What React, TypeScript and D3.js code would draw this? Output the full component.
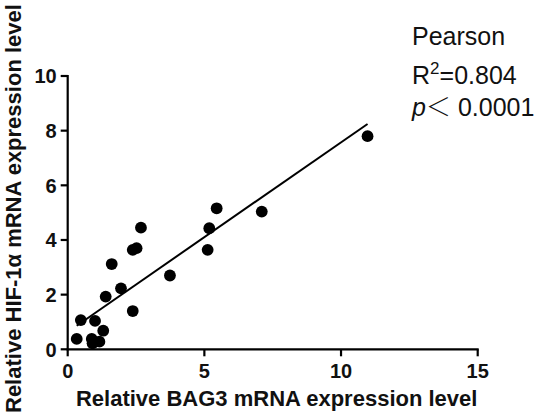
import React from 'react';
import { scaleLinear, line } from 'd3';

// values
const bag3 = [0.33, 0.48, 1.0, 1.3, 0.88, 0.91, 1.16, 1.39, 1.95, 1.61, 2.38, 2.38, 2.52, 2.68, 3.74, 5.12, 5.18, 5.45, 7.1, 10.97];
const hif1a = [0.38, 1.07, 1.04, 0.68, 0.38, 0.22, 0.28, 1.93, 2.23, 3.12, 1.4, 3.64, 3.7, 4.45, 2.7, 3.64, 4.43, 5.16, 5.04, 7.8];

const xTicks = [0, 5, 10, 15];
const yTicks = [0, 2, 4, 6, 8, 10];

const xLabel = 'Relative BAG3 mRNA expression level';
const yLabel = 'Relative HIF-1α mRNA expression level';
const statTitle = 'Pearson';
const rSquared = '0.804';
const pValue = '0.0001';

const font = '"Liberation Sans", Arial, sans-serif';

// simple least squares fit
const fit = (xs: number[], ys: number[]) => {
	const n = xs.length;
	const mx = xs.reduce((a, b) => a + b, 0) / n;
	const my = ys.reduce((a, b) => a + b, 0) / n;
	let sxy = 0;
	let sxx = 0;
	for (let i = 0; i < n; i++) {
		sxy += (xs[i] - mx) * (ys[i] - my);
		sxx += (xs[i] - mx) * (xs[i] - mx);
	}
	const slope = sxy / sxx;
	return { slope, intercept: my - slope * mx };
};

export default function App() {
	const x = scaleLinear().domain([0, 15]).range([67.7, 477.7]);
	const y = scaleLinear().domain([0, 10]).range([349.3, 76]);

	const { slope, intercept } = fit(bag3, hif1a);
	const x0 = Math.min(...bag3);
	const x1 = Math.max(...bag3);
	const fitPath = line<number>()
		.x((d) => x(d))
		.y((d) => y(slope * d + intercept))([x0, x1]);

	const tickLen = 7;

	return (
		<svg
			width={534}
			height={415}
			style={{ position: 'fixed', left: 0, top: 0, background: '#fff' }}>
			{/* y axis */}
			<g>
				<line x1={x(0)} x2={x(0)} y1={y(0) + 1} y2={y(10) - 1} stroke="#000" strokeWidth={2.2} />
				{yTicks.map((t) => (
					<g key={t}>
						<line x1={x(0) - tickLen} x2={x(0)} y1={y(t)} y2={y(t)} stroke="#000" strokeWidth={2.2} />
						<text
							x={x(0) - tickLen - 4}
							y={y(t)}
							dy="0.36em"
							textAnchor="end"
							style={{ fontFamily: font, fontWeight: 'bold', fontSize: '20px', fill: '#111' }}>
							{t}
						</text>
					</g>
				))}
			</g>

			{/* x axis */}
			<g>
				<line x1={x(0) - 1} x2={x(15) + 1} y1={y(0)} y2={y(0)} stroke="#000" strokeWidth={2.2} />
				{xTicks.map((t) => (
					<g key={t}>
						<line x1={x(t)} x2={x(t)} y1={y(0)} y2={y(0) + tickLen} stroke="#000" strokeWidth={2.2} />
						<text
							x={x(t)}
							y={378}
							textAnchor="middle"
							style={{ fontFamily: font, fontWeight: 'bold', fontSize: '20px', fill: '#111' }}>
							{t}
						</text>
					</g>
				))}
			</g>

			{/* axis titles */}
			<text
				x={(x(0) + x(15)) / 2 + 4}
				y={406}
				textAnchor="middle"
				style={{ fontFamily: font, fontWeight: 'bold', fontSize: '22px', fill: '#111' }}>
				{xLabel}
			</text>
			<text
				transform="translate(21, 413) rotate(-90)"
				textAnchor="start"
				style={{ fontFamily: font, fontWeight: 'bold', fontSize: '22px', fill: '#111' }}>
				{yLabel}
			</text>

			{/* regression line */}
			<path d={fitPath ?? ''} fill="none" stroke="#000" strokeWidth={2} />

			{/* points */}
			{bag3.map((v, i) => (
				<circle key={i} cx={x(v)} cy={y(hif1a[i])} r={5.9} fill="#000" />
			))}

			{/* stats */}
			<g style={{ fontFamily: font, fontSize: '25px', fill: '#111' }}>
				<text x={412} y={45}>
					{statTitle}
				</text>
				<text x={412} y={84}>
					R
					<tspan dy={-10} style={{ fontSize: '17px' }}>
						2
					</tspan>
					<tspan dy={10}>={rSquared}</tspan>
				</text>
				<text x={412} y={116}>
					<tspan style={{ fontStyle: 'italic' }}>p</tspan>
					<tspan style={{ fontFamily: '"Noto Sans CJK SC"', fontWeight: 300 }}>＜</tspan>
					<tspan> {pValue}</tspan>
				</text>
			</g>
		</svg>
	);
}
